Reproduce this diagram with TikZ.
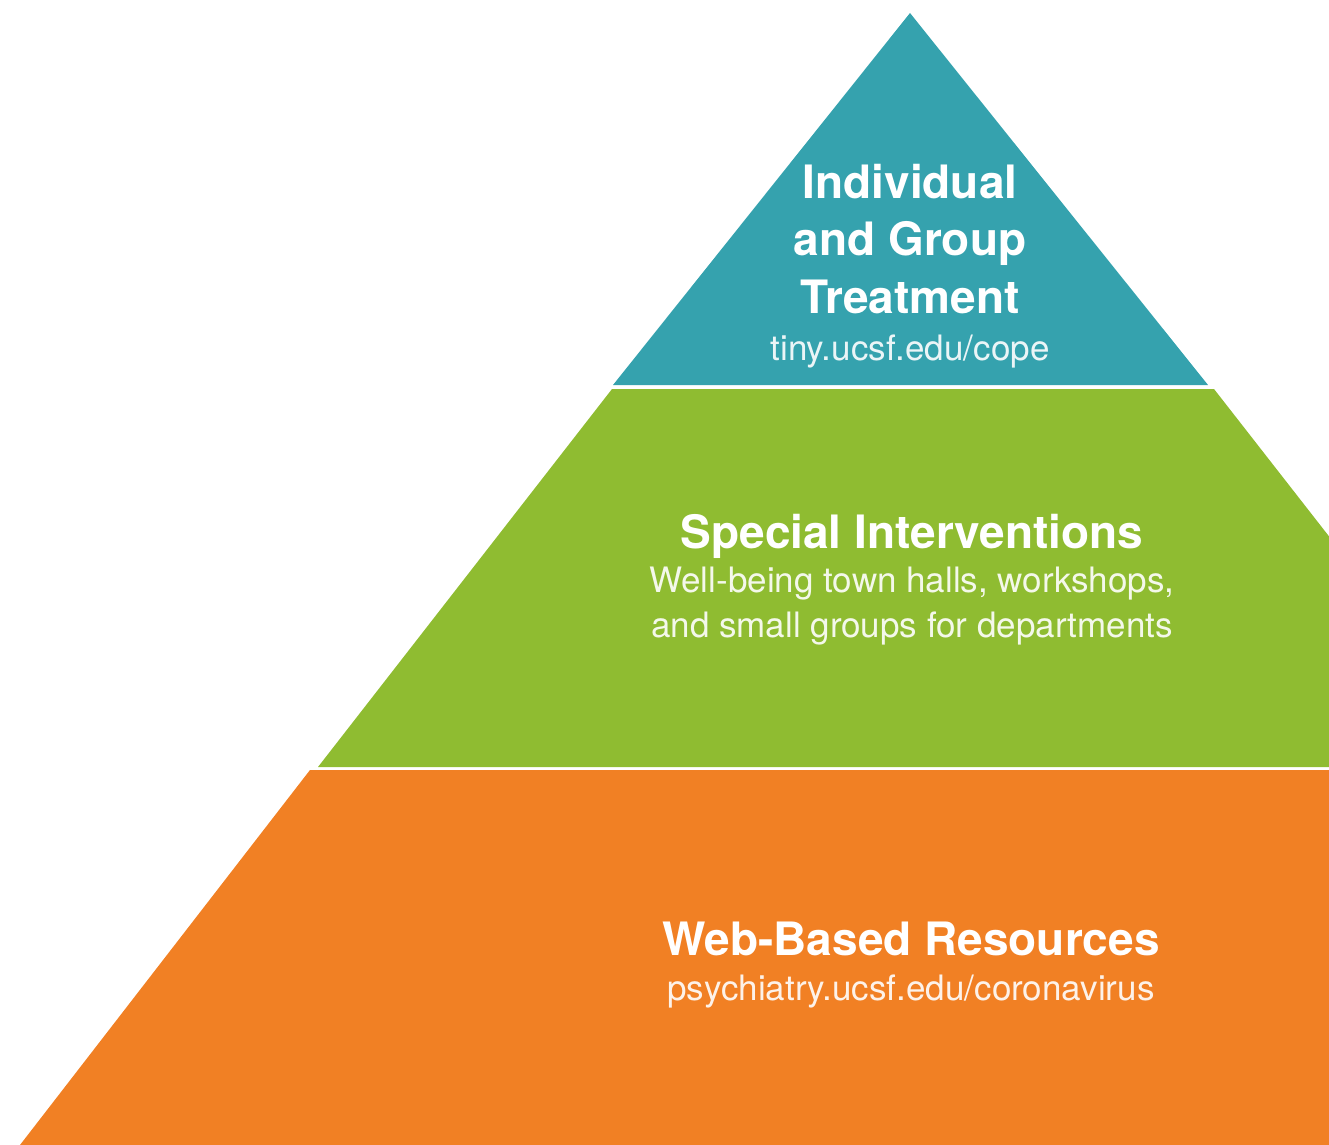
\documentclass[tikz,border=0pt]{standalone}
\usepackage{fontspec}
\setmainfont{TeX Gyre Heros}
\usepackage{tikz}
\usetikzlibrary{positioning}
\definecolor{tealband}{HTML}{35A2AE}
\definecolor{greenband}{HTML}{8FBC31}
\definecolor{orangeband}{HTML}{F18024}
\tikzset{
  ttl/.style={text=white,font=\bfseries\fontsize{23}{29}\selectfont,align=center,inner sep=0pt,anchor=base},
  sub/.style={text=white,text opacity=.9,font=\fontsize{17.5}{22.5}\selectfont,align=center,inner sep=0pt,anchor=base},
}
\begin{document}
\begin{tikzpicture}[x=0.5pt,y=-0.5pt]
\useasboundingbox (0,0) rectangle (1329,1145);
\begin{scope}
\clip (0,0) rectangle (1329,1145);
% the three bands, small white gaps between them
\fill[tealband] (910,13) -- (1208,385) -- (613,385) -- cycle;
\fill[greenband] (612,389) -- (1214,389) -- (1509,767) -- (318,767) -- cycle;
\fill[orangeband] (310,770) -- (1650,770) -- (1650,1145) -- (20,1145) -- cycle;
\end{scope}
% labels
\node[ttl] (treat) at (910,314) {Individual\\and Group\\Treatment};
\node[sub] (treaturl) at (910,360) {tiny.ucsf.edu/cope};
\node[ttl] (interv) at (912,548) {Special Interventions};
\node[sub] (intervsub) at (912,637) {Well-being town halls, workshops,\\and small groups for departments};
\node[ttl] (web) at (911,955) {Web-Based Resources};
\node[sub] (weburl) at (911,1000) {psychiatry.ucsf.edu/coronavirus};
\end{tikzpicture}
\end{document}
